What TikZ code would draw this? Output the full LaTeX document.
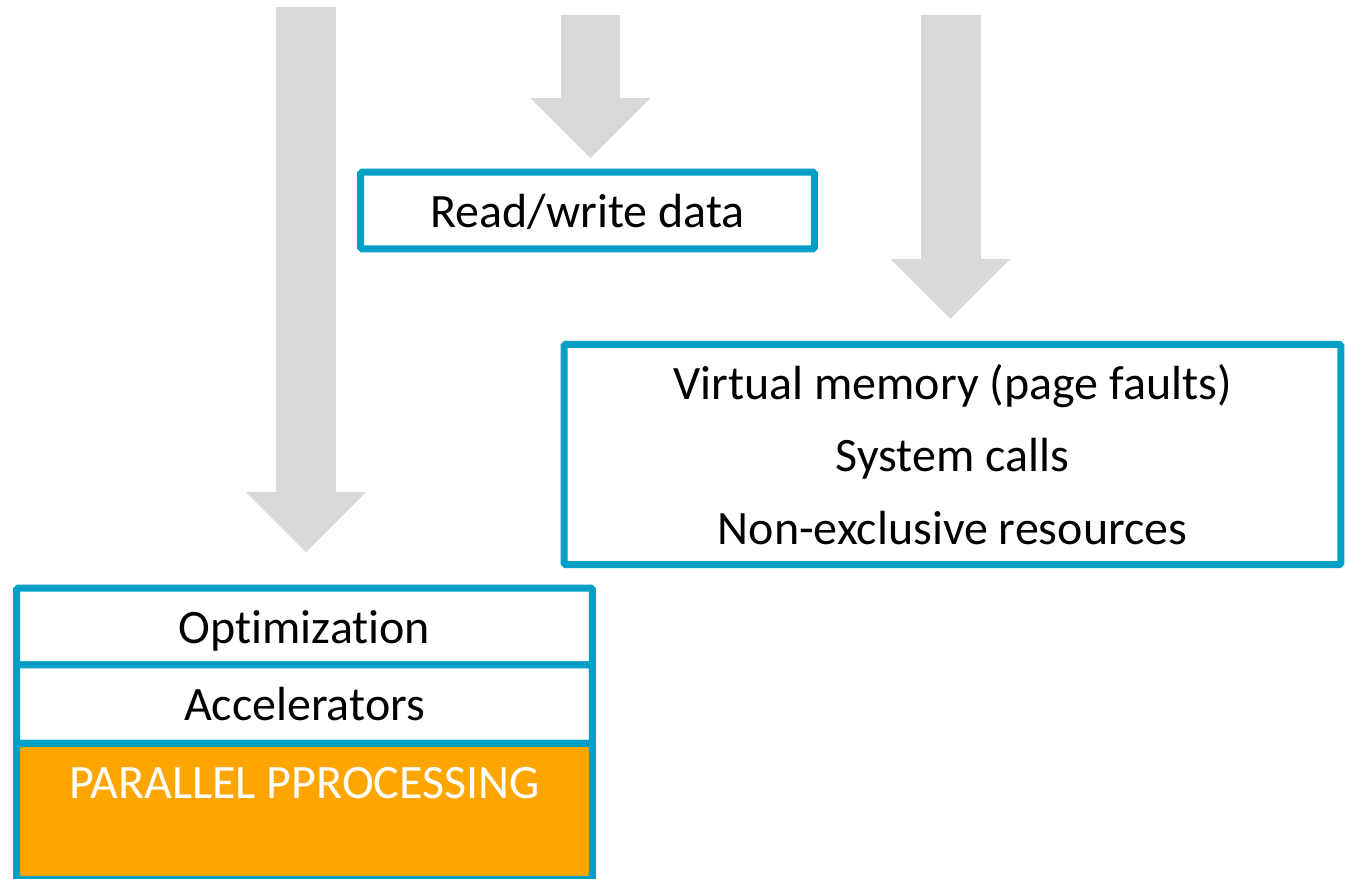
\documentclass[tikz,border=0pt]{standalone}
\usepackage{fontspec}
\setmainfont{Carlito}[Ligatures=NoCommon]
\usetikzlibrary{positioning,calc,arrows.meta}
\definecolor{boxblue}{RGB}{0,160,198}
\definecolor{arrowgray}{RGB}{217,217,217}
\definecolor{parorange}{RGB}{255,165,0}
\tikzset{
  box/.style={draw=boxblue, line width=0.14cm, fill=white, rounded corners=1pt,
    inner sep=0pt, font=\fontsize{27.3}{32}\selectfont},
  layer/.style={box, outer sep=0pt, minimum width=11.52cm, text depth=0pt},
  flow/.style={arrowgray, line width=1.2cm,
    -{Triangle[width=2.4cm,length=1.2cm,line width=0pt]}},
}
\begin{document}
\begin{tikzpicture}[x=0.02cm,y=-0.02cm]
  \useasboundingbox (0,0) rectangle (1347,879);
  % boxes
  \node[box, text depth=0pt, minimum width=9.08cm, minimum height=1.54cm] (rw) at (587.5,210.5) {Read/write data};
  \node[box, minimum width=15.54cm, minimum height=4.41cm, align=center,
    font=\fontsize{27.3}{41.3}\selectfont] (os) at (952.5,454.5)
    {Virtual memory (page faults)\\System calls\\Non-exclusive resources};
  % stack
  \node[layer, minimum height=1.54cm] (opt) at (304.5,626.5) {Optimization};
  \node[layer, minimum height=1.57cm, below=0pt of opt] (acc) {Accelerators};
  \node[layer, minimum height=2.72cm, fill=parorange, below=0pt of acc] (par) {};
  \node[text=white, font=\fontsize{27.3}{32}\selectfont] (partext)
    at ([yshift=-0.79cm]par.north) {PARALLEL PPROCESSING};
  % arrows
  \coordinate (in1) at (306,7);
  \coordinate (in2) at (590.5,15);
  \coordinate (in3) at (950.5,15);
  \draw[flow] (in1) -- ($(in1 |- opt.north)+(0,-36)$);
  \draw[flow] (in2) -- ($(in2 |- rw.north)+(0,-10.5)$);
  \draw[flow] (in3) -- ($(in3 |- os.north)+(0,-22)$);
\end{tikzpicture}
\end{document}
